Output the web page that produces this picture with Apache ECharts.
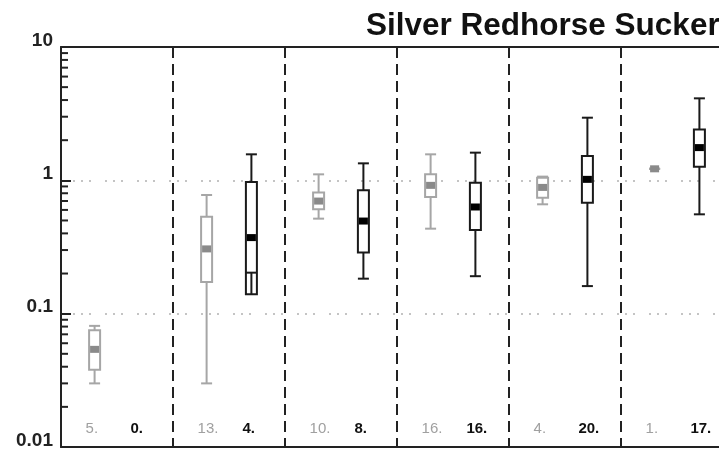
<!DOCTYPE html>
<html><head><meta charset="utf-8">
<script src="https://cdn.jsdelivr.net/npm/echarts@6/dist/echarts.min.js"></script>
<style>html,body{margin:0;padding:0;background:#fff}#c{width:719px;height:450px}</style>
</head><body><div id="c"></div>
<script>
const chartTitle = 'Silver Redhorse Sucker';
// per group: [min, q1, median, q3, max]
const grayStats = [
  [0.030, 0.038, 0.054, 0.075, 0.081],
  [0.030, 0.173, 0.306, 0.534, 0.776],
  [0.516, 0.606, 0.699, 0.809, 1.109],
  [0.434, 0.750, 0.917, 1.109, 1.567],
  [0.661, 0.740, 0.885, 1.045, 1.066],
  [1.22, 1.22, 1.22, 1.22, 1.22]
];
const blackStats = [
  null,
  [0.203, 0.140, 0.372, 0.971, 1.567],
  [0.183, 0.287, 0.495, 0.841, 1.341],
  [0.191, 0.424, 0.631, 0.961, 1.613],
  [0.161, 0.680, 1.017, 1.522, 2.950],
  [0.556, 1.267, 1.760, 2.410, 4.120]
];
const grayCounts = [5, 13, 10, 16, 4, 1];
const blackCounts = [0, 4, 8, 16, 20, 17];
const yTickLabels = ['0.01', '0.1', '1', '10'];
const minorMultipliers = [2, 3, 4, 5, 6, 7, 8, 9];
const decades = [0.01, 0.1, 1];

// visible part of the 6-group x range (the plot runs past the right edge of the picture)
const X_VISIBLE_MAX = 658 / 112;
const GRAY_OFF = 0.3, BLACK_OFF = 0.7;
const grayData = grayStats.map((s, g) => s ? [g + GRAY_OFF].concat(s) : null).filter(Boolean);
const blackData = blackStats.map((s, g) => s ? [g + BLACK_OFF].concat(s) : null).filter(Boolean);
const labelData = [];
grayCounts.forEach((c, g) => labelData.push([g + GRAY_OFF, c, 0]));
blackCounts.forEach((c, g) => labelData.push([g + BLACK_OFF, c, 1]));
const minorData = [];
decades.forEach(d => minorMultipliers.forEach(m => minorData.push([0, m * d])));

function boxRenderer(stroke, medFill) {
  return function (params, api) {
    const x = api.value(0);
    const pt = v => api.coord([x, v]);
    const cx = pt(api.value(1))[0];
    const yMin = pt(api.value(1))[1], yQ1 = pt(api.value(2))[1], yMed = pt(api.value(3))[1],
          yQ3 = pt(api.value(4))[1], yMax = pt(api.value(5))[1];
    const hw = 5.5, cw = 5.5, mh = 3.5;
    const ls = { stroke: stroke, lineWidth: 2, fill: null };
    return { type: 'group', children: [
      { type: 'rect', shape: { x: cx - hw, y: Math.min(yQ1, yQ3), width: 2 * hw, height: Math.abs(yQ1 - yQ3) }, style: { fill: '#fff', stroke: stroke, lineWidth: 2 } },
      { type: 'line', shape: { x1: cx, y1: yQ3, x2: cx, y2: yMax }, style: ls },
      { type: 'line', shape: { x1: cx, y1: yQ1, x2: cx, y2: yMin }, style: ls },
      { type: 'line', shape: { x1: cx - cw, y1: yMax, x2: cx + cw, y2: yMax }, style: ls },
      { type: 'line', shape: { x1: cx - cw, y1: yMin, x2: cx + cw, y2: yMin }, style: ls },
      { type: 'rect', shape: { x: cx - hw + 1, y: yMed - mh, width: 2 * hw - 2, height: 2 * mh }, style: { fill: medFill } }
    ]};
  };
}

const chart = echarts.init(document.getElementById('c'), null, { renderer: 'canvas' });
chart.setOption({
  backgroundColor: '#fff',
  animation: false,
  title: {
    text: chartTitle, left: 366, top: 10, padding: 0,
    textStyle: { fontFamily: 'Liberation Sans', fontWeight: 'bold', fontSize: 31.5, color: '#111' }
  },
  grid: { left: 61, top: 47, right: 0, height: 400, show: false },
  xAxis: [{
    type: 'value', min: 0, max: X_VISIBLE_MAX, interval: 1, position: 'bottom',
    axisLine: { show: true, lineStyle: { color: '#222', width: 2 } },
    axisTick: { show: false }, axisLabel: { show: false },
    splitLine: { show: true, showMinLine: false, showMaxLine: false, lineStyle: { color: '#222', width: 2, type: [11, 6] } }
  }, {
    type: 'value', min: 0, max: X_VISIBLE_MAX, position: 'top',
    axisLine: { show: true, onZero: false, lineStyle: { color: '#222', width: 2 } },
    axisTick: { show: false }, axisLabel: { show: false }, splitLine: { show: false }
  }],
  yAxis: {
    type: 'log', logBase: 10, min: 0.01, max: 10,
    axisLine: { show: true, lineStyle: { color: '#222', width: 2 } },
    axisTick: { show: true, inside: true, length: 10, lineStyle: { color: '#222', width: 2 } },
    axisLabel: {
      margin: 8, color: '#222', fontFamily: 'Liberation Sans', fontWeight: 'bold', fontSize: 19,
      verticalAlign: 'bottom', lineHeight: 13,
      formatter: (v, i) => yTickLabels[i]
    },
    splitLine: { show: true, showMinLine: false, showMaxLine: false, lineStyle: { color: '#c4c4c4', width: 2, type: [2, 6, 2, 6, 2, 14], dashOffset: -12 } }
  },
  series: [
    { type: 'custom', name: 'minor', data: minorData, encode: { x: 0, y: 1 }, silent: true,
      renderItem: (params, api) => {
        const p = api.coord([api.value(0), api.value(1)]);
        return { type: 'line', shape: { x1: p[0], y1: p[1], x2: p[0] + 7, y2: p[1] }, style: { stroke: '#222', lineWidth: 2 } };
      } },
    { type: 'custom', name: 'gray', data: grayData, encode: { x: 0, y: [1, 2, 3, 4, 5] }, renderItem: boxRenderer('#a6a6a6', '#8a8a8a') },
    { type: 'custom', name: 'black', data: blackData, encode: { x: 0, y: [1, 2, 3, 4, 5] }, renderItem: boxRenderer('#1a1a1a', '#000') },
    { type: 'custom', name: 'counts', data: labelData, encode: { x: 0 },
      renderItem: (params, api) => {
        const cs = params.coordSys;
        const px = api.coord([api.value(0), 1])[0];
        const black = api.value(2) === 1;
        return { type: 'text', x: px - 9, y: cs.y + cs.height - 11,
          style: { text: api.value(1) + '.', align: 'left', verticalAlign: 'bottom',
            font: (black ? 'bold ' : '') + '15px "Liberation Sans"', fill: black ? '#111' : '#a0a0a0' } };
      } }
  ]
});
</script></body></html>
